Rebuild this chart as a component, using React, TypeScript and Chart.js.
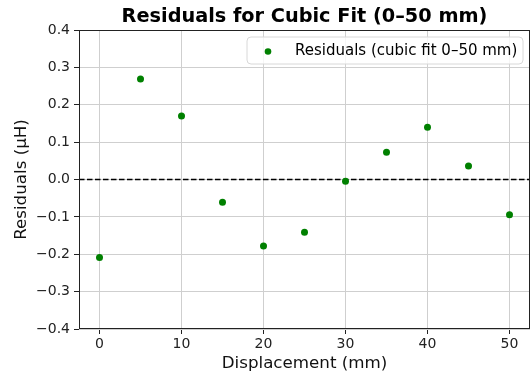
import React, { useEffect, useRef } from "react";
import { Chart, registerables } from "chart.js";

Chart.register(...registerables);

const displacement = [0, 5, 10, 15, 20, 25, 30, 35, 40, 45, 50];
const residuals = [-0.209, 0.269, 0.17, -0.061, -0.178, -0.141, -0.005, 0.073, 0.14, 0.036, -0.094];
const xTicks = [0, 10, 20, 30, 40, 50];
const yTicks = [-0.4, -0.3, -0.2, -0.1, 0, 0.1, 0.2, 0.3, 0.4];
const titleText = "Residuals for Cubic Fit (0–50 mm)";
const legendText = "Residuals (cubic fit 0–50 mm)";
const xTitle = "Displacement (mm)";
const yTitle = "Residuals (µH)";

const FONT = "'DejaVu Sans', sans-serif";

const overlayPlugin = {
  id: "overlay",
  beforeDatasetsDraw(chart: any) {
    const { ctx, chartArea, scales } = chart;
    const y0 = scales.y.getPixelForValue(0);
    ctx.save();
    ctx.strokeStyle = "#000";
    ctx.lineWidth = 1.5;
    ctx.setLineDash([5.5, 2.5]);
    ctx.beginPath();
    ctx.moveTo(chartArea.left, y0);
    ctx.lineTo(chartArea.right, y0);
    ctx.stroke();
    ctx.restore();
  },
  afterDraw(chart: any) {
    const { ctx, chartArea } = chart;
    ctx.save();
    // frame
    ctx.strokeStyle = "#222";
    ctx.lineWidth = 1;
    ctx.strokeRect(
      Math.round(chartArea.left) + 0.5,
      Math.round(chartArea.top) + 0.5,
      Math.round(chartArea.right - chartArea.left) - 1,
      Math.round(chartArea.bottom - chartArea.top) - 1
    );
    // title
    ctx.fillStyle = "#000";
    ctx.font = `bold 19.3px ${FONT}`;
    ctx.textAlign = "center";
    ctx.textBaseline = "middle";
    ctx.fillText(titleText, (chartArea.left + chartArea.right) / 2, 17);
    // legend
    const lx = 247, ly = 37, lw = 276, lh = 27, r = 4;
    ctx.fillStyle = "rgba(255,255,255,0.8)";
    ctx.strokeStyle = "#d8d8d8";
    ctx.lineWidth = 1;
    ctx.beginPath();
    ctx.moveTo(lx + r, ly);
    ctx.lineTo(lx + lw - r, ly);
    ctx.quadraticCurveTo(lx + lw, ly, lx + lw, ly + r);
    ctx.lineTo(lx + lw, ly + lh - r);
    ctx.quadraticCurveTo(lx + lw, ly + lh, lx + lw - r, ly + lh);
    ctx.lineTo(lx + r, ly + lh);
    ctx.quadraticCurveTo(lx, ly + lh, lx, ly + lh - r);
    ctx.lineTo(lx, ly + r);
    ctx.quadraticCurveTo(lx, ly, lx + r, ly);
    ctx.closePath();
    ctx.fill();
    ctx.stroke();
    ctx.fillStyle = "#008000";
    ctx.beginPath();
    ctx.arc(268, 51.5, 3.3, 0, Math.PI * 2);
    ctx.fill();
    ctx.fillStyle = "#000";
    ctx.font = `15px ${FONT}`;
    ctx.textAlign = "left";
    ctx.textBaseline = "middle";
    ctx.fillText(legendText, 295, 51);
    ctx.restore();
  },
};

export default function App() {
  const ref = useRef<HTMLCanvasElement>(null);
  useEffect(() => {
    document.body.style.margin = "0";
    const canvas = ref.current!;
    const chart = new Chart(canvas, {
      type: "scatter",
      data: {
        datasets: [
          {
            label: legendText,
            data: displacement.map((x, i) => ({ x, y: residuals[i] })),
            backgroundColor: "#008000",
            borderColor: "#008000",
            pointRadius: 3.5,
            pointBorderWidth: 0,
          },
        ],
      },
      options: {
        animation: false,
        responsive: false,
        devicePixelRatio: 1,
        layout: { autoPadding: false, padding: { top: 30, right: 1, left: 0, bottom: 0 } },
        plugins: {
          legend: { display: false },
          title: { display: false },
          tooltip: { enabled: false },
        },
        scales: {
          x: {
            type: "linear",
            min: -2.5,
            max: 52.5,
            afterBuildTicks: (s: any) => {
              s.ticks = xTicks.map((v) => ({ value: v }));
            },
            afterFit: (s: any) => {
              s.height = 45;
            },
            grid: {
              color: "#cfcfcf",
              lineWidth: 1,
              tickLength: 5,
              tickColor: "#222",
              drawTicks: true,
            },
            border: { display: false },
            ticks: {
              color: "#222",
              font: { family: FONT, size: 14 },
              padding: 2,
              maxRotation: 0,
              callback: (v: any) => String(v),
            },
            title: {
              display: true,
              text: xTitle,
              color: "#111",
              font: { family: FONT, size: 16.7 },
              padding: { top: 0, bottom: 0 },
            },
          },
          y: {
            type: "linear",
            min: -0.4,
            max: 0.4,
            afterBuildTicks: (s: any) => {
              s.ticks = yTicks.map((v) => ({ value: v }));
            },
            afterFit: (s: any) => {
              s.width = 79;
            },
            grid: {
              color: "#cfcfcf",
              lineWidth: 1,
              tickLength: 5,
              tickColor: "#222",
              drawTicks: true,
            },
            border: { display: false },
            ticks: {
              color: "#222",
              font: { family: FONT, size: 14 },
              padding: 4,
              callback: (v: any) => {
                const n = Number(v);
                const s = Math.abs(n).toFixed(1);
                return n < -1e-9 ? "\u2212" + s : s;
              },
            },
            title: {
              display: true,
              text: yTitle,
              color: "#111",
              font: { family: FONT, size: 16.7 },
              padding: { top: 12, bottom: 0 },
            },
          },
        },
      },
      plugins: [overlayPlugin],
    });
    return () => chart.destroy();
  }, []);
  return (
    <div style={{ width: 531, height: 374 }}>
      <canvas ref={ref} width={531} height={374} style={{ display: "block" }} />
    </div>
  );
}
